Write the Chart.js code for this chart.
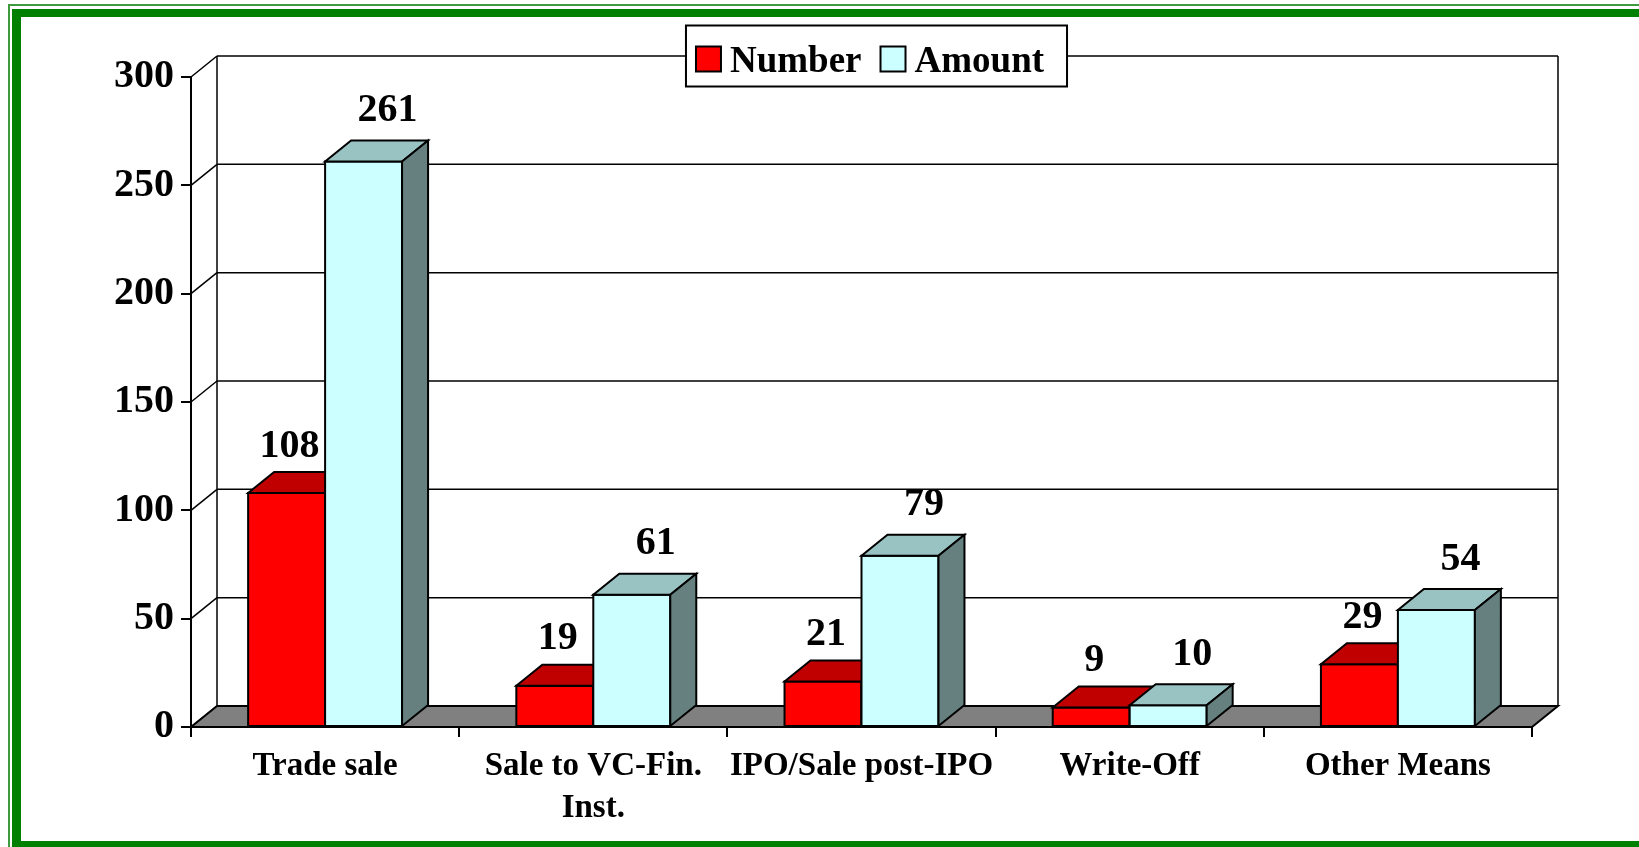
<!DOCTYPE html>
<html>
<head>
<meta charset="utf-8">
<title>Exit routes - number and amount</title>
<script src="https://cdn.jsdelivr.net/npm/chart.js@4.4.0/dist/chart.umd.min.js"></script>
<style>
  html, body { margin: 0; padding: 0; background: #fff; }
  canvas { display: block; }
</style>
</head>
<body>
<canvas id="exit-canvas" width="1639" height="847"></canvas>
<script>
// Divestments by exit route: number vs amount, drawn as Excel-style 3D columns.
var categories = ['Trade sale', ['Sale to VC-Fin.', 'Inst.'], 'IPO/Sale post-IPO', 'Write-Off', 'Other Means'];
var numberValues = [108, 19, 21, 9, 29];
var amountValues = [261, 61, 79, 10, 54];
var yTicks = [0, 50, 100, 150, 200, 250, 300];
var seriesNames = ['Number', 'Amount'];

var FONT = '"Liberation Serif", "Times New Roman", serif';
var DX = 26, DY = -21;   // depth of the fake 3D projection

var palette = [
  { front: '#ff0000', top: '#c00000', side: '#800000' },
  { front: '#ccffff', top: '#99c2c2', side: '#668080' }
];
// where the value labels sit relative to the bar's front-top
var labelShift = [{ x: 3, y: 50 }, { x: 24, y: 54 }];

function line(ctx, x1, y1, x2, y2) {
  ctx.beginPath();
  ctx.moveTo(x1, y1);
  ctx.lineTo(x2, y2);
  ctx.stroke();
}

function poly(ctx, pts, fill) {
  ctx.beginPath();
  ctx.moveTo(pts[0][0], pts[0][1]);
  for (var i = 1; i < pts.length; i++) ctx.lineTo(pts[i][0], pts[i][1]);
  ctx.closePath();
  ctx.fillStyle = fill;
  ctx.fill();
  ctx.stroke();
}

// green double frame round the whole picture
var framePlugin = {
  id: 'frame',
  beforeDraw: function (chart) {
    var ctx = chart.ctx, w = chart.width, h = chart.height;
    ctx.save();
    ctx.fillStyle = '#fff';
    ctx.fillRect(0, 0, w, h);
    ctx.fillStyle = '#3f9a3f';
    ctx.fillRect(8, 4, 2, h - 4);
    ctx.fillRect(8, 4, w - 8, 2);
    ctx.fillStyle = '#008000';
    ctx.fillRect(12, 9, 9, h - 9);
    ctx.fillRect(12, 9, w - 12, 8);
    ctx.fillRect(12, 841, w - 12, h - 841);
    ctx.restore();
  }
};

// back wall, side wall and floor
var wallsPlugin = {
  id: 'walls',
  beforeDatasetsDraw: function (chart) {
    var ctx = chart.ctx, a = chart.chartArea, ys = chart.scales.y;
    ctx.save();
    ctx.strokeStyle = '#000';
    ctx.lineWidth = 1.5;
    yTicks.forEach(function (v) {
      var py = ys.getPixelForValue(v);
      line(ctx, a.left, py, a.left + DX, py + DY);
      if (v > 0) line(ctx, a.left + DX, py + DY, a.right + DX, py + DY);
    });
    line(ctx, a.left + DX, a.top + DY, a.left + DX, a.bottom + DY);
    line(ctx, a.right + DX, a.top + DY, a.right + DX, a.bottom + DY);
    ctx.lineWidth = 2;
    poly(ctx, [[a.left, a.bottom], [a.right, a.bottom], [a.right + DX, a.bottom + DY], [a.left + DX, a.bottom + DY]], '#808080');
    ctx.restore();
  }
};

// cubes (front, top, side) in painter's order, then value labels
var cubesPlugin = {
  id: 'cubes',
  afterDatasetsDraw: function (chart) {
    var ctx = chart.ctx;
    var metas = chart.data.datasets.map(function (d, i) { return chart.getDatasetMeta(i); });
    ctx.save();
    ctx.strokeStyle = '#000';
    ctx.lineWidth = 2;
    ctx.lineJoin = 'miter';
    for (var i = 0; i < categories.length; i++) {
      metas.forEach(function (meta, d) {
        var p = meta.data[i].getProps(['x', 'y', 'base', 'width'], true);
        var l = p.x - p.width / 2, r = p.x + p.width / 2, t = p.y, b = p.base;
        var c = palette[d];
        poly(ctx, [[l, t], [r, t], [r, b], [l, b]], c.front);
        poly(ctx, [[l, t], [r, t], [r + DX, t + DY], [l + DX, t + DY]], c.top);
        poly(ctx, [[r, t], [r + DX, t + DY], [r + DX, b + DY], [r, b]], c.side);
      });
    }
    ctx.fillStyle = '#000';
    ctx.font = 'bold 40px ' + FONT;
    ctx.textAlign = 'center';
    ctx.textBaseline = 'alphabetic';
    metas.forEach(function (meta, d) {
      var vals = chart.data.datasets[d].data;
      meta.data.forEach(function (el, i) {
        var p = el.getProps(['x', 'y'], true);
        ctx.fillText(String(vals[i]), p.x + labelShift[d].x, p.y - labelShift[d].y + 13.5);
      });
    });
    ctx.restore();
  }
};

// boxed legend sitting on the top edge of the back wall
var legendPlugin = {
  id: 'boxLegend',
  afterDraw: function (chart) {
    var ctx = chart.ctx, a = chart.chartArea;
    ctx.save();
    ctx.font = 'bold 37px ' + FONT;
    var widths = seriesNames.map(function (n) { return ctx.measureText(n).width; });
    var sq = 25, padL = 10, padR = 23, gap = 9, between = 19, h = 61;
    var total = padL + sq + gap + widths[0] + between + sq + gap + widths[1] + padR;
    var cx = (a.left + a.right) / 2 + 15;
    var cy = a.top + DY;
    var x0 = cx - total / 2, y0 = cy - h / 2;
    ctx.fillStyle = '#fff';
    ctx.fillRect(x0, y0, total, h);
    ctx.strokeStyle = '#000';
    ctx.lineWidth = 2;
    ctx.strokeRect(x0, y0, total, h);
    var x = x0 + padL;
    ctx.textBaseline = 'alphabetic';
    ctx.textAlign = 'left';
    seriesNames.forEach(function (name, d) {
      ctx.fillStyle = palette[d].front;
      ctx.fillRect(x, cy - sq / 2 + 3, sq, sq);
      ctx.strokeRect(x, cy - sq / 2 + 3, sq, sq);
      x += sq + gap;
      ctx.fillStyle = '#000';
      ctx.fillText(name, x, cy + 16);
      x += widths[d] + between;
    });
    ctx.restore();
  }
};

new Chart(document.getElementById('exit-canvas'), {
  type: 'bar',
  data: {
    labels: categories,
    datasets: [
      { label: seriesNames[0], data: numberValues, backgroundColor: palette[0].front,
        borderWidth: 0, categoryPercentage: 0.574, barPercentage: 1 },
      { label: seriesNames[1], data: amountValues, backgroundColor: palette[1].front,
        borderWidth: 0, categoryPercentage: 0.574, barPercentage: 1 }
    ]
  },
  options: {
    responsive: false,
    animation: false,
    layout: { padding: { top: 77, right: 107, left: 0, bottom: 0 } },
    plugins: { legend: { display: false }, tooltip: { enabled: false } },
    scales: {
      x: {
        afterFit: function (s) { s.height = 120; },
        grid: { drawOnChartArea: false, offset: true, tickLength: 10, color: '#000', lineWidth: 2 },
        border: { display: true, color: '#000', width: 2 },
        ticks: { autoSkip: false, maxRotation: 0, minRotation: 0, color: '#000', padding: 9,
                 font: { family: FONT, size: 33, weight: 'bold', lineHeight: 1.27 } }
      },
      y: {
        min: 0, max: 300,
        afterBuildTicks: function (s) { s.ticks = yTicks.map(function (v) { return { value: v }; }); },
        afterFit: function (s) { s.width = 191; },
        grid: { drawOnChartArea: false, tickLength: 10, color: '#000', lineWidth: 2 },
        border: { display: true, color: '#000', width: 2 },
        ticks: { color: '#000', padding: 7, font: { family: FONT, size: 40, weight: 'bold' } }
      }
    }
  },
  plugins: [framePlugin, wallsPlugin, cubesPlugin, legendPlugin]
});
</script>
</body>
</html>
